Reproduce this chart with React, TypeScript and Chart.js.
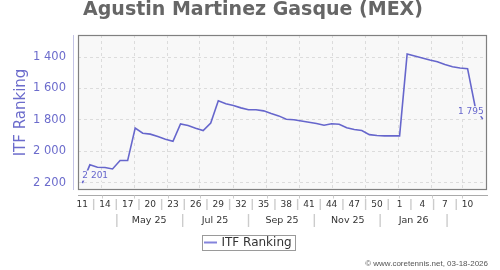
import React, { useEffect, useRef } from 'react';
import { Chart, registerables } from 'chart.js';

Chart.register(...registerables);

const TITLE = 'Agustin Martinez Gasque (MEX)';
const SERIES_NAME = 'ITF Ranking';
const FOOTER = '\u00A9 www.coretennis.net, 03-18-2026';

// first weekly ranking date (week 11 of 2025), one point per week
const FIRST_DATE = '2025-03-14';
const WEEKS = [
  11, 12, 13, 14, 15, 16, 17, 18, 19, 20, 21, 22, 23, 24, 25, 26, 27, 28, 29, 30, 31,
  32, 33, 34, 35, 36, 37, 38, 39, 40, 41, 42, 43, 44, 45, 46, 47, 48, 49, 50, 51, 52,
  1, 2, 3, 4, 5, 6, 7, 8, 9, 10, 11, 12,
];
const RANKS = [
  2201, 2085, 2100, 2102, 2111, 2058, 2058, 1852, 1884, 1890, 1905, 1922, 1935, 1825,
  1835, 1852, 1867, 1820, 1678, 1697, 1708, 1723, 1735, 1735, 1742, 1759, 1774, 1795,
  1799, 1807, 1814, 1822, 1833, 1824, 1827, 1850, 1861, 1867, 1893, 1899, 1901, 1901,
  1901, 1381, 1394, 1406, 1419, 1430, 1447, 1462, 1470, 1474, 1715, 1795,
];
const Y_TICKS = [1400, 1600, 1800, 2000, 2200];
const Y_MIN = 1260;
const Y_MAX = 2245;
const X_PAD_DAYS = 4;
const WEEK_LABEL_EVERY = 3;

const GRID_DATES = [
  '2025-04-01', '2025-05-01', '2025-06-01', '2025-07-01', '2025-08-01', '2025-09-01',
  '2025-10-01', '2025-11-01', '2025-12-01', '2026-01-01', '2026-02-01', '2026-03-01',
];
const MONTH_LABELS = ['May 25', 'Jul 25', 'Sep 25', 'Nov 25', 'Jan 26'];
const MONTH_LABEL_DATES = ['2025-05-15', '2025-07-15', '2025-09-15', '2025-11-15', '2026-01-15'];
const MONTH_SEP_DATES = ['2025-04-15', '2025-06-15', '2025-08-15', '2025-10-15', '2025-12-15', '2026-02-15'];

const LINE_COLOR = '#6666cc';
const TEXT_BLUE = '#6c6ccc';
const PLOT_BG = '#f8f8f8';
const FONT = 'DejaVu Sans';

const fmt = (v: number) => {
  const s = String(Math.round(v));
  return s.length > 3 ? s.slice(0, -3) + ' ' + s.slice(-3) : s;
};
const day = (d: string) => (Date.parse(d) - Date.parse(FIRST_DATE)) / 86400000;

export default function App() {
  const ref = useRef<HTMLCanvasElement>(null);

  useEffect(() => {
    document.body.style.margin = '0';
    if (!ref.current) return;
    const points = RANKS.map((r, i) => ({ x: i * 7, y: r }));
    const lastX = (RANKS.length - 1) * 7;

    const decor = {
      id: 'decor',
      beforeDraw(chart: any) {
        const { ctx, chartArea: a } = chart;
        ctx.save();
        ctx.fillStyle = '#ffffff';
        ctx.fillRect(0, 0, chart.width, chart.height);
        ctx.fillStyle = PLOT_BG;
        ctx.fillRect(a.left, a.top, a.right - a.left, a.bottom - a.top);
        ctx.restore();
      },
      afterDatasetsDraw(chart: any) {
        const { ctx } = chart;
        const meta = chart.getDatasetMeta(0);
        const n = meta.data.length;
        const first = meta.data[0];
        const last = meta.data[n - 1];
        ctx.save();
        ctx.font = `9px "${FONT}"`;
        ctx.textBaseline = 'middle';
        // first label
        let t = fmt(RANKS[0]);
        let w = ctx.measureText(t).width;
        let cx = first.x;
        let cy = first.y - 7.5;
        ctx.fillStyle = PLOT_BG;
        ctx.fillRect(cx - 1, cy - 5, w + 2, 10);
        ctx.fillStyle = LINE_COLOR;
        ctx.textAlign = 'left';
        ctx.fillText(t, cx, cy);
        // last label
        t = fmt(RANKS[n - 1]);
        w = ctx.measureText(t).width;
        cx = last.x + 1;
        cy = last.y - 8;
        ctx.fillStyle = PLOT_BG;
        ctx.fillRect(cx - w - 1, cy - 5, w + 2, 10);
        ctx.fillStyle = LINE_COLOR;
        ctx.textAlign = 'right';
        ctx.fillText(t, cx, cy);
        ctx.restore();
      },
      afterDraw(chart: any) {
        const { ctx, chartArea: a } = chart;
        const xs = chart.scales.x;
        ctx.save();
        // plot border
        ctx.strokeStyle = '#808080';
        ctx.lineWidth = 1.2;
        ctx.strokeRect(a.left + 0.5, a.top + 0.5, a.right - a.left - 1, a.bottom - a.top - 1);
        // y axis line
        ctx.strokeStyle = '#c4c4e6';
        ctx.lineWidth = 1;
        ctx.beginPath();
        ctx.moveTo(a.left - 4.5, a.top);
        ctx.lineTo(a.left - 4.5, a.bottom);
        ctx.stroke();
        // x axis line
        const axY = a.bottom + 5.5;
        ctx.strokeStyle = '#aaaaaa';
        ctx.beginPath();
        ctx.moveTo(a.left, axY);
        ctx.lineTo(a.right + 1, axY);
        ctx.stroke();
        // tick marks at month starts
        ctx.strokeStyle = '#cccccc';
        GRID_DATES.forEach((d) => {
          const px = Math.round(xs.getPixelForValue(day(d))) + 0.5;
          ctx.beginPath();
          ctx.moveTo(px, axY);
          ctx.lineTo(px, axY + 3);
          ctx.stroke();
        });
        // week labels row
        ctx.font = `9px "${FONT}"`;
        ctx.fillStyle = '#333333';
        ctx.textAlign = 'center';
        ctx.textBaseline = 'middle';
        const labelled: number[] = [];
        WEEKS.forEach((wk, i) => {
          if (i % WEEK_LABEL_EVERY !== 0) return;
          labelled.push(i);
          ctx.fillText(String(wk), xs.getPixelForValue(i * 7), 204.5);
        });
        ctx.strokeStyle = '#cccccc';
        ctx.lineWidth = 1.4;
        for (let k = 0; k < labelled.length - 1; k++) {
          const px = xs.getPixelForValue(((labelled[k] + labelled[k + 1]) / 2) * 7);
          ctx.beginPath();
          ctx.moveTo(px, 199);
          ctx.lineTo(px, 210);
          ctx.stroke();
        }
        // month labels row
        ctx.font = `9.5px "${FONT}"`;
        MONTH_LABELS.forEach((m, i) => {
          ctx.fillText(m, xs.getPixelForValue(day(MONTH_LABEL_DATES[i])), 220.5);
        });
        MONTH_SEP_DATES.forEach((d) => {
          const px = xs.getPixelForValue(day(d));
          ctx.beginPath();
          ctx.moveTo(px, 214);
          ctx.lineTo(px, 227);
          ctx.stroke();
        });
        // legend
        ctx.strokeStyle = '#9a9a9a';
        ctx.lineWidth = 1;
        ctx.strokeRect(202.5, 235.5, 93, 15);
        ctx.strokeStyle = '#8484dc';
        ctx.lineWidth = 2;
        ctx.beginPath();
        ctx.moveTo(204, 242.5);
        ctx.lineTo(217, 242.5);
        ctx.stroke();
        ctx.font = `12px "${FONT}"`;
        ctx.fillStyle = '#333333';
        ctx.textAlign = 'left';
        ctx.fillText(SERIES_NAME, 221.5, 243);
        // footer
        ctx.font = '8px "Liberation Sans"';
        ctx.fillStyle = '#555555';
        ctx.textAlign = 'right';
        ctx.textBaseline = 'alphabetic';
        ctx.fillText(FOOTER, 488, 266);
        // title
        ctx.font = `bold 19px "${FONT}"`;
        ctx.fillStyle = '#666666';
        ctx.textAlign = 'center';
        ctx.fillText(TITLE, 253, 15);
        ctx.restore();
      },
    };

    const chart = new Chart(ref.current, {
      type: 'line',
      data: {
        datasets: [
          {
            label: SERIES_NAME,
            data: points,
            borderColor: LINE_COLOR,
            backgroundColor: LINE_COLOR,
            borderWidth: 1.6,
            pointRadius: 0,
            tension: 0,
            fill: false,
          },
        ],
      },
      options: {
        animation: false,
        responsive: false,
        events: [],
        layout: { padding: { top: 35, right: 13, left: 0, bottom: 0 } },
        plugins: {
          legend: { display: false },
          title: { display: false },
          tooltip: { enabled: false },
        },
        scales: {
          x: {
            type: 'linear',
            min: -X_PAD_DAYS,
            max: lastX + X_PAD_DAYS,
            afterBuildTicks: (s: any) => {
              s.ticks = GRID_DATES.map((d) => ({ value: day(d) }));
            },
            afterFit: (s: any) => {
              s.height = 80;
            },
            ticks: { display: false },
            grid: { color: '#dcdcdc', lineWidth: 1, drawTicks: false },
            border: { display: false, dash: [3, 3] },
          },
          y: {
            type: 'linear',
            reverse: true,
            min: Y_MIN,
            max: Y_MAX,
            afterBuildTicks: (s: any) => {
              s.ticks = Y_TICKS.map((v) => ({ value: v }));
            },
            afterFit: (s: any) => {
              s.width = 78;
            },
            ticks: {
              padding: 12,
              color: TEXT_BLUE,
              font: { family: FONT, size: 11.5 },
              callback: (v: any) => fmt(Number(v)),
            },
            title: {
              display: true,
              text: SERIES_NAME,
              color: TEXT_BLUE,
              font: { family: FONT, size: 15 },
              padding: { top: 12, bottom: 0 },
            },
            grid: { color: '#dcdcdc', lineWidth: 1, drawTicks: false },
            border: { display: false, dash: [3, 3] },
          },
        },
      },
      plugins: [decor],
    } as any);

    return () => chart.destroy();
  }, []);

  return (
    <div style={{ width: 500, height: 270 }}>
      <canvas ref={ref} width={500} height={270} style={{ display: 'block' }} />
    </div>
  );
}
